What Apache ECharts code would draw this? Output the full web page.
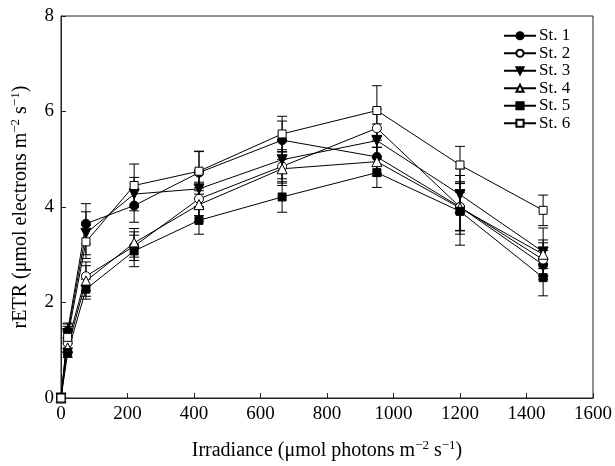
<!DOCTYPE html>
<html>
<head>
<meta charset="utf-8">
<script src="https://cdn.jsdelivr.net/npm/echarts@6/dist/echarts.min.js"></script>
<style>html,body{margin:0;padding:0;background:#fff}#c{width:615px;height:466px}</style>
</head>
<body>
<div id="c"></div>
<script>
var irradiance = [0, 20, 75, 220, 415, 665, 950, 1200, 1450];
var st1 = [0, 1.40, 3.65, 4.03, 4.72, 5.40, 5.05, 4.00, 2.79];
var st2 = [0, 1.15, 2.55, 3.18, 4.17, 4.85, 5.65, 4.00, 2.90];
var st3 = [0, 1.35, 3.45, 4.27, 4.38, 4.99, 5.39, 4.26, 3.06];
var st4 = [0, 1.05, 2.45, 3.25, 4.05, 4.80, 4.95, 3.98, 3.01];
var st5 = [0, 0.95, 2.28, 3.08, 3.72, 4.21, 4.72, 3.91, 2.52];
var st6 = [0, 1.27, 3.27, 4.45, 4.75, 5.53, 6.02, 4.88, 3.93];
var err1 = [0, 0.15, 0.42, 0.35, 0.45, 0.40, 0.35, 0.80, 0.30];
var err2 = [0, 0.12, 0.30, 0.30, 0.35, 0.35, 0.40, 0.50, 0.35];
var err3 = [0, 0.15, 0.45, 0.35, 0.40, 0.40, 0.35, 0.40, 0.50];
var err4 = [0, 0.10, 0.32, 0.30, 0.35, 0.35, 0.30, 0.55, 0.30];
var err5 = [0, 0.10, 0.21, 0.33, 0.29, 0.32, 0.31, 0.40, 0.38];
var err6 = [0, 0.30, 0.35, 0.45, 0.41, 0.37, 0.52, 0.39, 0.32];
var names = ['St. 1', 'St. 2', 'St. 3', 'St. 4', 'St. 5', 'St. 6'];
var xTicks = [0, 200, 400, 600, 800, 1000, 1200, 1400, 1600];
var yTicks = [0, 2, 4, 6, 8];

var values = [st1, st2, st3, st4, st5, st6];
var errors = [err1, err2, err3, err4, err5, err6];
var symbols = ['circle', 'circle', 'path://M0,0L10,0L5,9Z', 'triangle', 'rect', 'rect'];
var sizes = [9, 9, 10, 10, 8, 8];
var fills = ['#000', '#fff', '#000', '#fff', '#000', '#fff'];
var FONT = 'Liberation Serif';

var series = [];
values.forEach(function (v, i) {
  var errData = [];
  for (var k = 0; k < irradiance.length; k++) {
    if (errors[i][k] > 0) errData.push([irradiance[k], v[k] - errors[i][k], v[k] + errors[i][k]]);
  }
  series.push({
    type: 'custom', name: 'err' + i, z: 2,
    renderItem: function (params, api) {
      var x = api.value(0);
      var p1 = api.coord([x, api.value(2)]);
      var p2 = api.coord([x, api.value(1)]);
      var h = 5;
      var st = { stroke: '#000', lineWidth: 1 };
      return { type: 'group', children: [
        { type: 'line', shape: { x1: p1[0], y1: p1[1], x2: p2[0], y2: p2[1] }, style: st },
        { type: 'line', shape: { x1: p1[0] - h, y1: p1[1], x2: p1[0] + h, y2: p1[1] }, style: st },
        { type: 'line', shape: { x1: p2[0] - h, y1: p2[1], x2: p2[0] + h, y2: p2[1] }, style: st }
      ] };
    },
    data: errData,
    encode: { x: 0, y: [1, 2] },
    silent: true
  });
});
values.forEach(function (v, i) {
  series.push({
    type: 'line', name: names[i], z: 3,
    data: irradiance.map(function (x, k) { return [x, v[k]]; }),
    symbol: symbols[i], symbolSize: sizes[i], showAllSymbol: true,
    lineStyle: { color: '#000', width: 1 },
    itemStyle: { color: fills[i], borderColor: '#000', borderWidth: 1 },
    emphasis: { disabled: true },
    animation: false
  });
});

var richName = {
  a: { fontFamily: FONT, fontSize: 20, color: '#000', verticalAlign: 'bottom', lineHeight: 22 },
  s: { fontFamily: FONT, fontSize: 13, color: '#000', verticalAlign: 'top', lineHeight: 22 }
};

var chart = echarts.init(document.getElementById('c'));
chart.setOption({
  animation: false,
  backgroundColor: '#fff',
  grid: { left: 61, right: 21, top: 16, bottom: 66, show: true, borderColor: '#222', borderWidth: 1 },
  legend: {
    data: names, orient: 'vertical', left: 503, top: 27, padding: 0,
    itemWidth: 32, itemHeight: 9, itemGap: 0,
    textStyle: { fontFamily: FONT, fontSize: 17, lineHeight: 17.5, color: '#000', padding: [0, 0, 0, -2] },
    selectedMode: false
  },
  xAxis: {
    type: 'value', min: xTicks[0], max: xTicks[xTicks.length - 1], interval: 200,
    name: '{a|Irradiance (μmol photons m}{s|−2}{a| s}{s|−1}{a|)}',
    nameLocation: 'middle', nameGap: 41,
    nameTextStyle: { rich: richName },
    axisLine: { lineStyle: { color: '#222', width: 1 } },
    axisTick: { inside: true, length: 5, lineStyle: { color: '#222' } },
    axisLabel: { fontFamily: FONT, fontSize: 19, color: '#000', margin: 7, formatter: function (v) { return String(v); } },
    splitLine: { show: false }
  },
  yAxis: {
    type: 'value', min: yTicks[0], max: yTicks[yTicks.length - 1], interval: 2,
    name: '{a|rETR (μmol electrons m}{s|−2}{a| s}{s|−1}{a|)}',
    nameLocation: 'middle', nameGap: 30,
    nameTextStyle: { rich: richName },
    axisLine: { show: true, lineStyle: { color: '#222', width: 1 } },
    axisTick: { show: true, inside: true, length: 5, lineStyle: { color: '#222' } },
    axisLabel: { fontFamily: FONT, fontSize: 19, color: '#000', margin: 7, formatter: function (v) { return String(v); } },
    splitLine: { show: false }
  },
  series: series
});
</script>
</body>
</html>
